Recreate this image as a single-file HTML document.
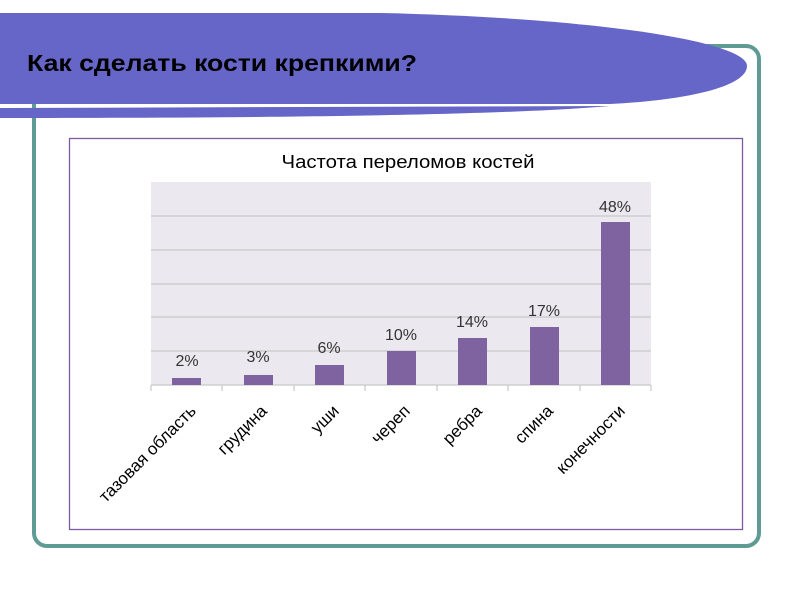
<!DOCTYPE html>
<html><head><meta charset="utf-8"><style>body{margin:0;background:#fff}svg{display:block}</style></head>
<body>
<svg width="800" height="600" viewBox="0 0 800 600" xmlns="http://www.w3.org/2000/svg">
<rect x="0" y="0" width="800" height="600" fill="#fff"/>
<rect x="34" y="46" width="725" height="500" rx="13" ry="13" fill="none" stroke="#5f9b94" stroke-width="4"/>
<path d="M0,13 L380,13 C600,18 747,42 747,66 C747,86 690,100 610,104 L0,104 Z" fill="#6666c8"/>
<path d="M0,108 L610,106 C540,112 400,118 0,118 Z" fill="#6666c8"/>
<text x="27" y="71" font-family="Liberation Sans, sans-serif" font-size="23" font-weight="bold" fill="#000" textLength="390" lengthAdjust="spacingAndGlyphs">Как сделать кости крепкими?</text>
<rect x="69.5" y="138.5" width="673" height="391" fill="#fff" stroke="#7b5aa0" stroke-width="1.3"/>
<text x="408" y="168" text-anchor="middle" font-family="Liberation Sans, sans-serif" font-size="18" fill="#000" textLength="253" lengthAdjust="spacingAndGlyphs">Частота переломов костей</text>
<rect x="151" y="182" width="500" height="203" fill="#ebe8ef"/>
<g stroke="#c8c8c8" stroke-width="1.2">
<line x1="151" y1="216" x2="651" y2="216"/><line x1="151" y1="250" x2="651" y2="250"/>
<line x1="151" y1="284" x2="651" y2="284"/><line x1="151" y1="317" x2="651" y2="317"/>
<line x1="151" y1="351" x2="651" y2="351"/>
<line x1="151" y1="385" x2="651" y2="385"/>
<line x1="151" y1="385" x2="151" y2="391"/><line x1="222" y1="385" x2="222" y2="391"/>
<line x1="294" y1="385" x2="294" y2="391"/><line x1="365" y1="385" x2="365" y2="391"/>
<line x1="437" y1="385" x2="437" y2="391"/><line x1="508" y1="385" x2="508" y2="391"/>
<line x1="580" y1="385" x2="580" y2="391"/><line x1="651" y1="385" x2="651" y2="391"/>
</g>
<g fill="#7f62a0">
<rect x="172" y="378" width="29" height="7"/>
<rect x="244" y="375" width="29" height="10"/>
<rect x="315" y="365" width="29" height="20"/>
<rect x="387" y="351" width="29" height="34"/>
<rect x="458" y="338" width="29" height="47"/>
<rect x="530" y="327" width="29" height="58"/>
<rect x="601" y="222" width="29" height="163"/>
</g>
<g font-family="Liberation Sans, sans-serif" font-size="16" fill="#333" text-anchor="middle">
<text x="187" y="366">2%</text><text x="258" y="362">3%</text><text x="329" y="353">6%</text>
<text x="401" y="340">10%</text><text x="472" y="327">14%</text><text x="544" y="316">17%</text>
<text x="615" y="212">48%</text>
</g>
<g font-family="Liberation Sans, sans-serif" font-size="17" fill="#000" text-anchor="end">
<text transform="translate(197,412) rotate(-45)">тазовая область</text>
<text transform="translate(268,412) rotate(-45)">грудина</text>
<text transform="translate(340,412) rotate(-45)">уши</text>
<text transform="translate(411,412) rotate(-45)">череп</text>
<text transform="translate(483,412) rotate(-45)">ребра</text>
<text transform="translate(554,412) rotate(-45)">спина</text>
<text transform="translate(626,412) rotate(-45)">конечности</text>
</g>
</svg>
</body></html>
